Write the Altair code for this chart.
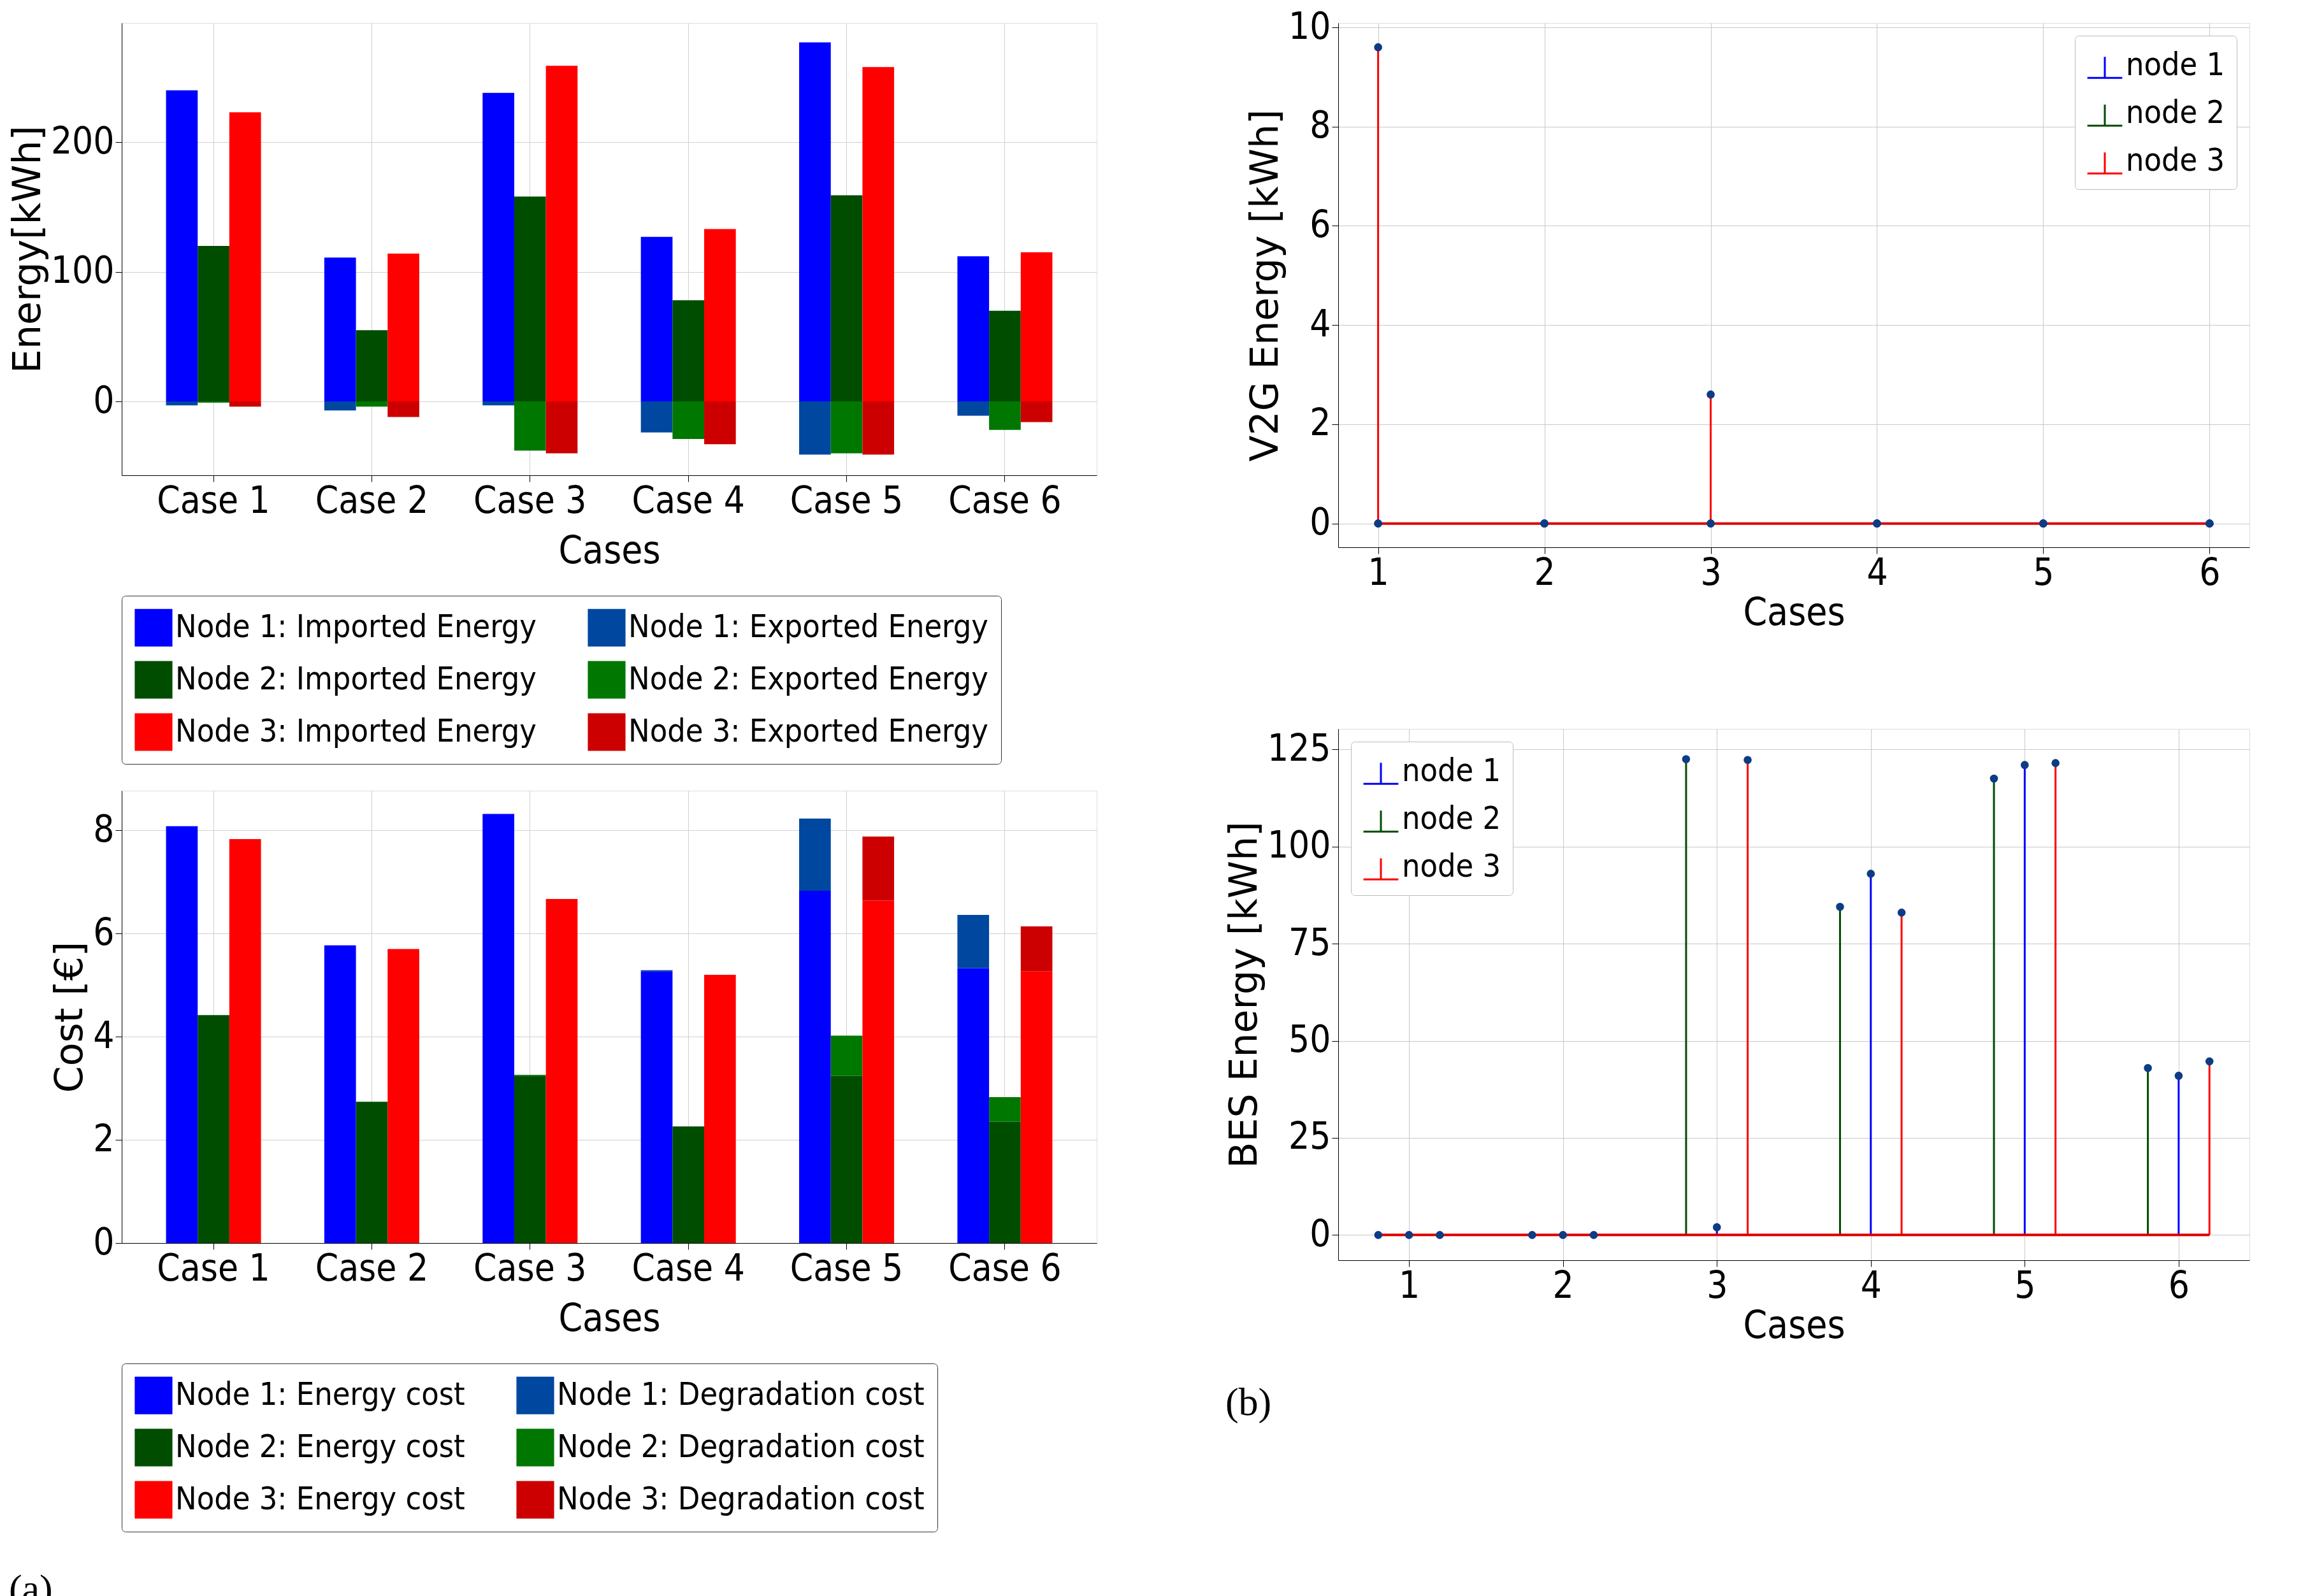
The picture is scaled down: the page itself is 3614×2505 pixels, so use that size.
import altair as alt
import pandas as pd

cases = ["Case 1", "Case 2", "Case 3", "Case 4", "Case 5", "Case 6"]
nodes = ["Node 1", "Node 2", "Node 3"]

imp = {"Node 1": [240, 111, 238, 127, 277, 112],
       "Node 2": [120, 55, 158, 78, 159, 70],
       "Node 3": [223, 114, 259, 133, 258, 115]}
exp_ = {"Node 1": [-3, -7, -3, -24, -41, -11],
        "Node 2": [-1, -4, -38, -29, -40, -22],
        "Node 3": [-4, -12, -40, -33, -41, -16]}

ecost = {"Node 1": [8.08, 5.77, 8.32, 5.27, 6.83, 5.33],
         "Node 2": [4.42, 2.74, 3.24, 2.26, 3.24, 2.35],
         "Node 3": [7.83, 5.70, 6.67, 5.20, 6.64, 5.27]}
dcost = {"Node 1": [0, 0, 0, 0.02, 1.40, 1.03],
         "Node 2": [0, 0, 0.02, 0, 0.78, 0.48],
         "Node 3": [0, 0, 0, 0, 1.24, 0.87]}

case_num = [1, 2, 3, 4, 5, 6]
v2g = {"node 1": [0, 0, 0, 0, 0, 0],
       "node 2": [0, 0, 0, 0, 0, 0],
       "node 3": [9.6, 0, 2.6, 0, 0, 0]}
bes = {"node 1": [0, 0, 2, 93, 121, 41],
       "node 2": [0, 0, 122.5, 84.5, 117.5, 43],
       "node 3": [0, 0, 122.3, 83, 121.5, 44.7]}
bes_off = {"node 1": 0.0, "node 2": -0.2, "node 3": 0.2}

FONT = "DejaVu Sans Condensed"
TICK = 58
TITLE = 60
LEG = 50

# ---------- energy bars ----------
rows = []
for n in nodes:
    for i, c in enumerate(cases):
        rows.append({"case": c, "node": n, "v": imp[n][i], "s": f"{n}: Imported Energy"})
        rows.append({"case": c, "node": n, "v": exp_[n][i], "s": f"{n}: Exported Energy"})
edf = pd.DataFrame(rows)
edom = []
for n in nodes:
    edom += [f"{n}: Imported Energy", f"{n}: Exported Energy"]
ecol = ["#0000ff", "#0047a0", "#004d00", "#007700", "#ff0000", "#cc0000"]

xscale = alt.Scale(paddingInner=0.4, paddingOuter=0.28)
xaxis = alt.Axis(title="Cases", labelAngle=0, bandPosition=0.5, labelFontSize=TICK,
                 titleFontSize=TITLE, labelFont=FONT, titleFont=FONT, grid=True,
                 gridColor="#d0d0d0", tickColor="black", tickSize=10, domainColor="black",
                 titleFontWeight="normal", labelColor="black", titlePadding=20)

def legend_params(dom):
    return alt.Legend(title=None, orient="bottom", columns=2, symbolType="square",
                      symbolSize=3500, labelFontSize=LEG, labelFont=FONT, labelColor="black",
                      strokeColor="#333", padding=20, cornerRadius=6, columnPadding=80,
                      rowPadding=22, symbolStrokeWidth=0, labelLimit=1000, offset=40,
                      symbolOpacity=1, direction="horizontal", values=dom)

energy = alt.Chart(edf).mark_bar().encode(
    x=alt.X("case:N", scale=xscale, axis=xaxis, sort=cases),
    xOffset=alt.XOffset("node:N", sort=nodes),
    y=alt.Y("v:Q", stack="zero", scale=alt.Scale(domain=[-57, 292], nice=False),
            axis=alt.Axis(title="Energy[kWh]", values=[0, 100, 200], labelFontSize=TICK,
                          titleFontSize=TITLE, labelFont=FONT, titleFont="DejaVu Sans",
                          gridColor="#d0d0d0", tickColor="black", tickSize=10,
                          domainColor="black", titleFontWeight="normal", labelColor="black")),
    color=alt.Color("s:N", scale=alt.Scale(domain=edom, range=ecol), legend=legend_params(edom)),
).properties(width=1530, height=710)

# ---------- cost bars ----------
rows = []
for n in nodes:
    for i, c in enumerate(cases):
        rows.append({"case": c, "node": n, "v": ecost[n][i], "s": f"{n}: Energy cost", "o": 0})
        rows.append({"case": c, "node": n, "v": dcost[n][i], "s": f"{n}: Degradation cost", "o": 1})
cdf = pd.DataFrame(rows)
cdom = []
for n in nodes:
    cdom += [f"{n}: Energy cost", f"{n}: Degradation cost"]

cost = alt.Chart(cdf).mark_bar().encode(
    x=alt.X("case:N", scale=xscale, axis=xaxis, sort=cases),
    xOffset=alt.XOffset("node:N", sort=nodes),
    y=alt.Y("v:Q", stack="zero", scale=alt.Scale(domain=[0, 8.77], nice=False),
            axis=alt.Axis(title="Cost [€]", values=[0, 2, 4, 6, 8], labelFontSize=TICK,
                          titleFontSize=TITLE, labelFont=FONT, titleFont="DejaVu Sans",
                          gridColor="#d0d0d0", tickColor="black", tickSize=10,
                          domainColor="black", titleFontWeight="normal", labelColor="black")),
    color=alt.Color("s:N", scale=alt.Scale(domain=cdom, range=ecol), legend=legend_params(cdom)),
    order=alt.Order("o:Q"),
).properties(width=1530, height=710)

# ---------- stem charts ----------
scol = {"node 1": "#0000ff", "node 2": "#004d00", "node 3": "#ff0000"}
sdom = ["node 1", "node 2", "node 3"]

def stem_chart(data, offs, xdom, ydom, yvals, ytitle, lorient, w, h, base):
    rows = []
    for n in sdom:
        for i, c in enumerate(case_num):
            rows.append({"x": c + offs.get(n, 0), "v": data[n][i], "node": n})
    df = pd.DataFrame(rows)
    xa = alt.Axis(title="Cases", values=case_num, labelFontSize=TICK, titleFontSize=TITLE,
                  labelFont=FONT, titleFont=FONT, gridColor="#c8c8c8", tickColor="black",
                  tickSize=10, domainColor="black", titleFontWeight="normal",
                  labelColor="black", format="d")
    ya = alt.Axis(title=ytitle, values=yvals, labelFontSize=TICK, titleFontSize=TITLE,
                  labelFont=FONT, titleFont="DejaVu Sans", gridColor="#c8c8c8",
                  tickColor="black", tickSize=10, domainColor="black",
                  titleFontWeight="normal", labelColor="black")
    X = alt.X("x:Q", scale=alt.Scale(domain=xdom, nice=False, zero=False), axis=xa)
    Y = alt.Y("v:Q", scale=alt.Scale(domain=ydom, nice=False), axis=ya)
    stems = alt.Chart(df).mark_rule(strokeWidth=3).encode(
        x=X, y=Y, y2=alt.datum(0),
        color=alt.Color("node:N", scale=alt.Scale(domain=sdom, range=[scol[n] for n in sdom]),
                        legend=alt.Legend(title=None, orient=lorient, symbolType="M-1,0.7H1M0,0.7V-0.5",
                                          symbolSize=3000, symbolStrokeWidth=3,
                                          labelFontSize=LEG, labelFont=FONT, labelColor="black",
                                          strokeColor="#bbb", fillColor="white", padding=18,
                                          cornerRadius=6, rowPadding=20, offset=20)))
    bdf = pd.DataFrame({"x": [base[0]], "x2": [base[1]], "v": [0]})
    baseline = alt.Chart(bdf).mark_rule(color="#dd0000", strokeWidth=4).encode(
        x=X, x2="x2:Q", y=Y)
    dots = alt.Chart(df).mark_point(filled=True, size=160, color="#0d3c85", opacity=1).encode(x=X, y=Y)
    return alt.layer(stems, baseline, dots).properties(width=w, height=h)

v2gc = stem_chart(v2g, {}, [0.76, 6.24], [-0.48, 10.09], [0, 2, 4, 6, 8, 10],
                  "V2G Energy [kWh]", "top-right", 1430, 823, (1, 6))
besc = stem_chart(bes, bes_off, [0.54, 6.46], [-6.5, 130.3], [0, 25, 50, 75, 100, 125],
                  "BES Energy [kWh]", "top-left", 1430, 834, (0.8, 6.2))

cap = dict(orient="bottom", fontSize=62, font="Liberation Serif", fontWeight="normal",
           offset=60, color="black")
left = alt.vconcat(energy, cost, spacing=40, title=alt.TitleParams("(a)", **cap)).resolve_scale(color="independent")
right = alt.vconcat(v2gc, besc, spacing=150, title=alt.TitleParams("(b)", **cap)).resolve_scale(color="independent")

chart = alt.hconcat(left, right, spacing=200).resolve_scale(color="independent").configure_view(
    stroke="black", strokeWidth=2).configure(background="white")

chart.save("out.html", embed_options={"renderer": "svg", "actions": False})
